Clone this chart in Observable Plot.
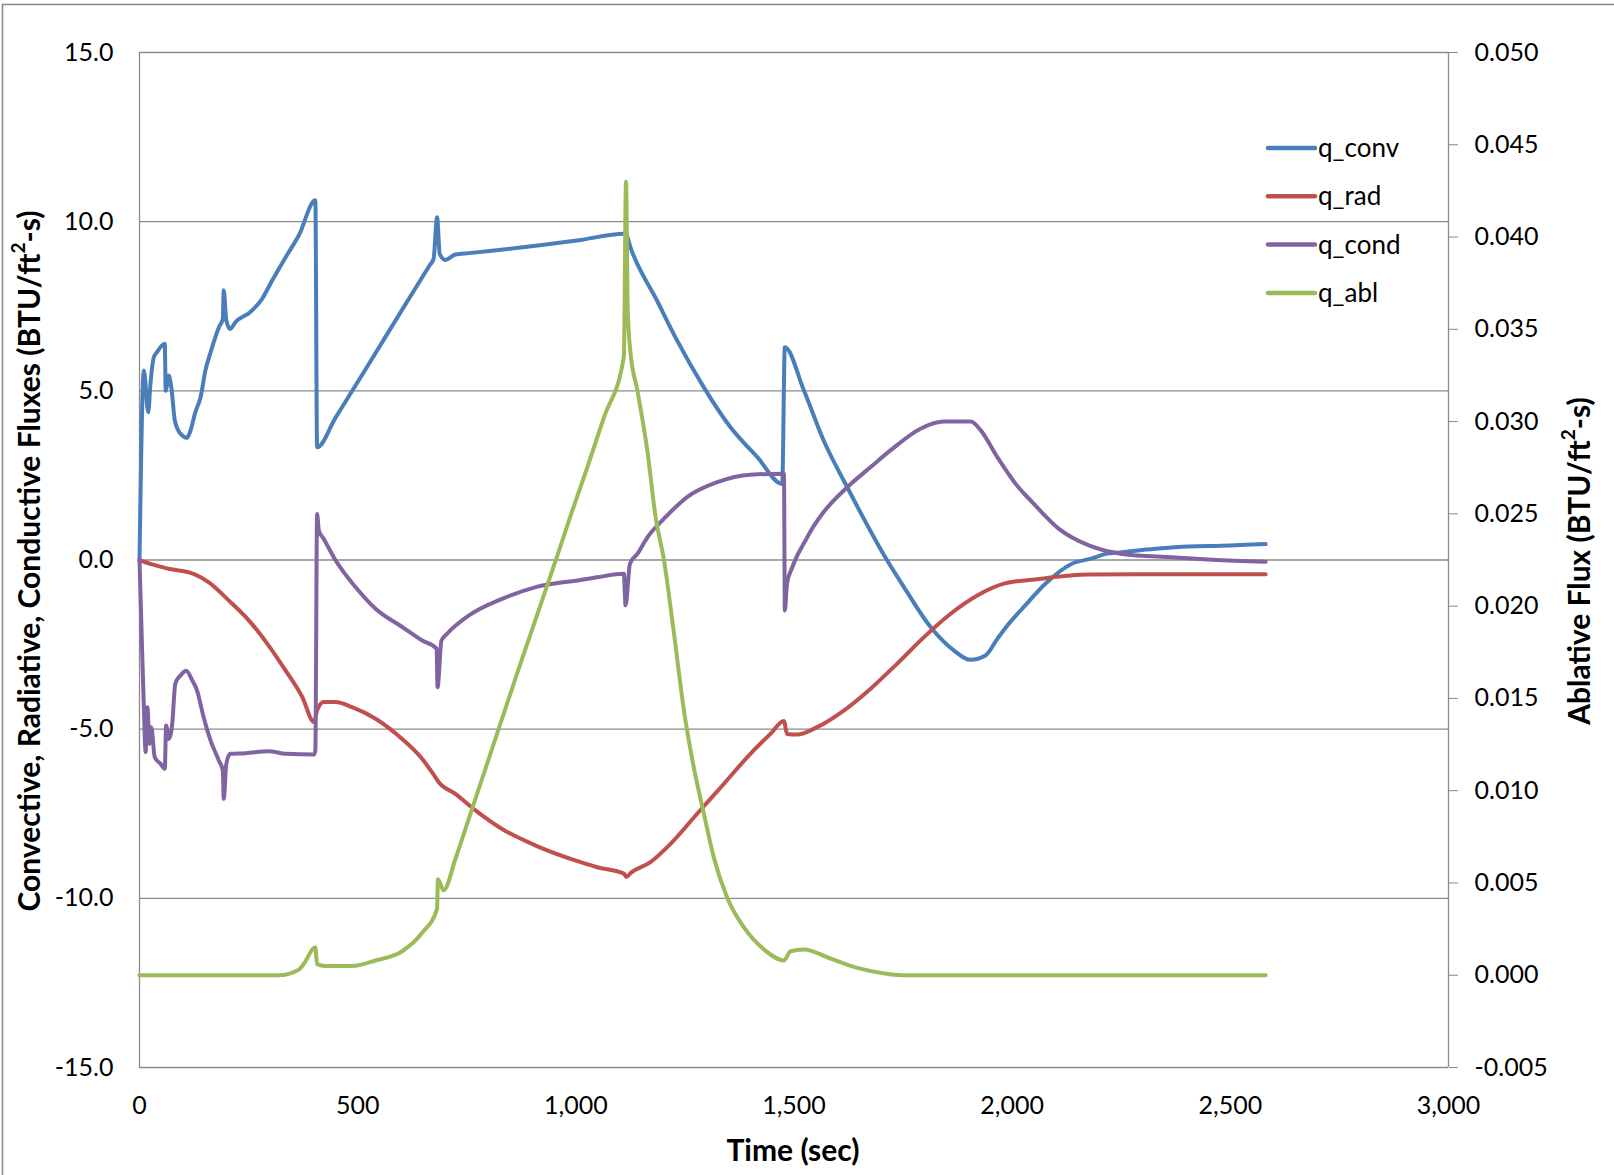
<!DOCTYPE html>
<html>
<head>
<meta charset="utf-8">
<script src="https://cdn.jsdelivr.net/npm/d3@7"></script>
<script src="https://cdn.jsdelivr.net/npm/@observablehq/plot@0.6"></script>
<style>
  html, body { margin: 0; padding: 0; background: #fff; }
  #chart svg { display: block; }
</style>
</head>
<body>
<div id="chart"></div>
<script>
// ---------- data ----------
const seriesNames = ["q_conv", "q_rad", "q_cond", "q_abl"];
const seriesColors = ["#4A7EBB", "#C0504D", "#8064A2", "#9BBB59"];

const leftTicks = [-15, -10, -5, 0, 5, 10, 15];
const rightTicks = [-0.005, 0, 0.005, 0.01, 0.015, 0.02, 0.025, 0.03, 0.035, 0.04, 0.045, 0.05];
const timeTicks = [0, 500, 1000, 1500, 2000, 2500, 3000];

const tConv = [0, 10, 20, 25, 33, 40, 58, 60, 67, 73, 81, 94, 109, 117, 128, 140, 151, 163, 182, 191, 193, 199, 208, 220, 254, 281, 304, 335, 365, 403, 407, 449, 526, 602, 665, 674, 682, 688, 701, 724, 755, 1011, 1110, 1116, 1125, 1186, 1232, 1293, 1354, 1416, 1473, 1479, 1523, 1568, 1622, 1713, 1752, 1813, 1866, 1904, 1939, 1966, 1985, 2030, 2076, 2137, 2183, 2214, 2252, 2328, 2405, 2481, 2581];
const qConv = [0, 5.6, 4.37, 5.2, 6.0, 6.14, 6.39, 5.0, 5.45, 5.1, 4.12, 3.73, 3.61, 3.83, 4.37, 4.81, 5.6, 6.14, 6.88, 7.13, 7.97, 7.08, 6.83, 7.03, 7.33, 7.72, 8.26, 8.95, 9.59, 10.63, 3.33, 4.2, 5.8, 7.4, 8.71, 8.9, 10.13, 9.05, 8.87, 9.03, 9.07, 9.46, 9.64, 9.6, 9.25, 7.67, 6.49, 5.11, 3.93, 3.04, 2.25, 6.29, 5.0, 3.53, 2.15, 0.0, -0.80, -1.98, -2.67, -2.95, -2.82, -2.33, -2.0, -1.34, -0.70, -0.11, 0.05, 0.18, 0.23, 0.33, 0.40, 0.42, 0.47];

const tRad = [0, 29, 67, 128, 159, 205, 251, 296, 335, 373, 400, 407, 422, 449, 487, 541, 602, 648, 678, 686, 724, 770, 831, 908, 1011, 1049, 1110, 1116, 1125, 1171, 1217, 1278, 1339, 1400, 1446, 1477, 1484, 1507, 1553, 1614, 1675, 1736, 1798, 1859, 1920, 1981, 2061, 2176, 2290, 2581];
const qRad = [0, -0.13, -0.26, -0.43, -0.66, -1.20, -1.79, -2.53, -3.27, -4.05, -4.79, -4.45, -4.20, -4.20, -4.35, -4.69, -5.29, -5.88, -6.42, -6.57, -6.91, -7.40, -7.95, -8.44, -8.93, -9.08, -9.27, -9.37, -9.26, -8.93, -8.39, -7.50, -6.62, -5.73, -5.14, -4.76, -5.14, -5.16, -4.94, -4.45, -3.81, -3.07, -2.28, -1.59, -1.05, -0.70, -0.56, -0.43, -0.42, -0.42];

const tCond = [0, 6, 10, 14, 18, 23, 27, 35, 48, 58, 61, 67, 75, 82, 94, 107, 121, 132, 147, 163, 182, 191, 193, 199, 208, 243, 296, 335, 400, 403, 407, 411, 422, 449, 495, 541, 602, 648, 681, 683, 692, 705, 755, 831, 908, 1011, 1049, 1110, 1114, 1124, 1141, 1164, 1202, 1255, 1324, 1400, 1477, 1479, 1484, 1495, 1507, 1523, 1545, 1568, 1622, 1675, 1721, 1790, 1843, 1905, 1928, 1966, 2008, 2046, 2107, 2176, 2252, 2367, 2458, 2581];
const qCond = [0, -2.67, -4.35, -5.68, -4.35, -5.43, -4.94, -5.83, -6.02, -6.17, -4.89, -5.29, -4.84, -3.66, -3.41, -3.27, -3.56, -3.86, -4.65, -5.34, -5.93, -6.22, -7.06, -6.02, -5.73, -5.71, -5.65, -5.73, -5.75, -5.63, 1.36, 0.87, 0.63, 0.0, -0.80, -1.44, -1.98, -2.38, -2.62, -3.76, -2.38, -2.18, -1.64, -1.15, -0.80, -0.59, -0.51, -0.41, -1.34, -0.11, 0.18, 0.67, 1.22, 1.86, 2.30, 2.52, 2.55, -1.49, -0.70, -0.25, 0.12, 0.5, 1.0, 1.42, 2.15, 2.74, 3.24, 3.88, 4.09, 4.09, 3.83, 3.04, 2.25, 1.71, 0.92, 0.43, 0.18, 0.08, 0.01, -0.05];

// ablative flux, in right-axis units
const tAbl = [0, 319, 365, 376, 403, 407, 426, 487, 541, 602, 648, 682, 684, 697, 724, 755, 793, 831, 869, 908, 957, 988, 1026, 1064, 1110, 1115, 1119, 1125, 1141, 1164, 1183, 1202, 1225, 1248, 1270, 1293, 1316, 1347, 1385, 1431, 1477, 1492, 1523, 1584, 1645, 1706, 1744, 2581];
const qAbl = [0, 0, 0.0003, 0.0006, 0.0015, 0.0006, 0.0005, 0.0005, 0.0008, 0.0013, 0.0023, 0.0036, 0.0052, 0.0046, 0.0063, 0.0085, 0.0112, 0.0139, 0.0166, 0.0193, 0.0227, 0.0249, 0.0275, 0.0302, 0.0335, 0.0430, 0.0360, 0.0338, 0.0317, 0.0284, 0.0248, 0.0225, 0.0185, 0.0143, 0.0113, 0.0088, 0.0064, 0.0042, 0.0026, 0.0014, 0.0008, 0.0013, 0.0014, 0.0009, 0.0004, 0.0001, 0, 0];

// ---------- secondary axis mapping (right -> left units) ----------
const leftDomain = [-15, 15];
const rightDomain = [-0.005, 0.05];
const toLeft = v => (v - rightDomain[0]) / (rightDomain[1] - rightDomain[0]) * (leftDomain[1] - leftDomain[0]) + leftDomain[0];
const toRight = y => (y - leftDomain[0]) / (leftDomain[1] - leftDomain[0]) * (rightDomain[1] - rightDomain[0]) + rightDomain[0];

const rows = [];
function add(name, ts, vs, map) {
  ts.forEach((t, i) => rows.push({series: name, t, v: map ? map(vs[i]) : vs[i]}));
}
add("q_conv", tConv, qConv);
add("q_rad", tRad, qRad);
add("q_cond", tCond, qCond);
add("q_abl", tAbl, qAbl, toLeft);

const gridColor = "#8a8a8a";
const FONT = "Lato, 'Open Sans', sans-serif";
const TICK_FS = 25;

const chart = Plot.plot({
  width: 1614,
  height: 1175,
  marginLeft: 139,
  marginRight: 166,
  marginTop: 52,
  marginBottom: 108,
  style: {fontFamily: FONT, fontSize: TICK_FS + "px", color: "#000", background: "#fff", overflow: "visible"},
  x: {domain: [0, 3000]},
  y: {domain: leftDomain},
  color: {domain: seriesNames, range: seriesColors},
  marks: [
    Plot.ruleY(leftTicks, {stroke: gridColor, strokeWidth: 1.3}),
    Plot.ruleX([0, 3000], {stroke: gridColor, strokeWidth: 1.3}),
    Plot.axisY({ticks: leftTicks, tickFormat: d => d.toFixed(1), tickSize: 0, tickPadding: 26, label: null, fontSize: TICK_FS}),
    Plot.axisY({anchor: "right", ticks: rightTicks.map(toLeft), tickFormat: d => (Math.round(toRight(d) * 1000) / 1000).toFixed(3),
      tickSize: 9, tickPadding: 17, stroke: gridColor, label: null, fontSize: TICK_FS}),
    Plot.axisX({ticks: timeTicks, tickFormat: d3.format(","), tickSize: 0, tickPadding: 29, label: null, fontSize: TICK_FS}),
    Plot.line(rows, {x: "t", y: "v", z: "series", stroke: "series", strokeWidth: 4, curve: "monotone-x",
      strokeLinejoin: "round", strokeLinecap: "round"})
  ]
});

document.getElementById("chart").appendChild(chart);

// ---------- decorations: frame, axis titles, legend ----------
const svg = d3.select(chart);
svg.insert("rect", ":first-child")
  .attr("x", 2.5).attr("y", 4.5).attr("width", 1640).attr("height", 1200)
  .attr("fill", "none").attr("stroke", "#8c8c8c").attr("stroke-width", 1.6);

function title(x, y, rotate, parts) {
  const t = svg.append("text")
    .attr("transform", `translate(${x},${y})` + (rotate ? " rotate(-90)" : ""))
    .attr("text-anchor", "middle")
    .attr("dominant-baseline", "central")
    .attr("font-family", FONT)
    .attr("font-weight", "bold")
    .attr("font-size", 30)
    .attr("fill", "#000");
  parts.forEach(p => {
    const s = t.append("tspan").text(p.text);
    if (p.sup) s.attr("font-size", 19).attr("dy", -11);
    if (p.after) s.attr("dy", 11);
  });
}
title(28, 561, true, [{text: "Convective, Radiative, Conductive Fluxes (BTU/ft"}, {text: "2", sup: true}, {text: "-s)", after: true}]);
title(1578, 561, true, [{text: "Ablative Flux (BTU/ft"}, {text: "2", sup: true}, {text: "-s)", after: true}]);
title(793, 1149, false, [{text: "Time (sec)"}]);

const legend = svg.append("g").attr("font-family", FONT).attr("font-size", 26).attr("text-anchor", "start");
seriesNames.forEach((name, i) => {
  const y = 148 + i * 48.3;
  legend.append("line").attr("x1", 1268).attr("x2", 1315).attr("y1", y).attr("y2", y)
    .attr("stroke", seriesColors[i]).attr("stroke-width", 4.5).attr("stroke-linecap", "round");
  legend.append("text").attr("x", 1318).attr("y", y).attr("dy", "-0.04em")
    .attr("text-anchor", "start")
    .attr("dominant-baseline", "central").attr("fill", "#000").text(name);
});
</script>
</body>
</html>
